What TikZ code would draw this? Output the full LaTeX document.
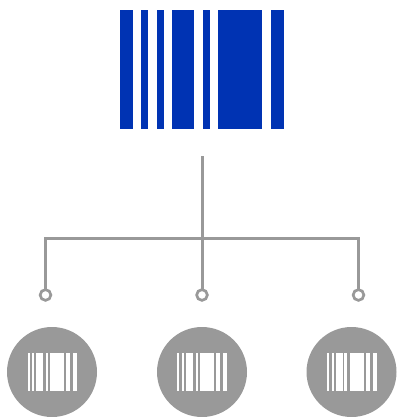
\documentclass[tikz,border=0pt]{standalone}
\definecolor{barblue}{HTML}{0033B3}
\definecolor{linegray}{HTML}{999999}
\tikzset{
  wire/.style={draw=linegray,line width=3pt},
  ringnode/.style={circle,draw=linegray,line width=2.7pt,fill=white,minimum size=10.7pt,inner sep=0pt,outer sep=0pt},
  disc/.style={circle,fill=linegray,minimum size=90pt,inner sep=0pt,outer sep=0pt},
  bigbar/.style={fill=barblue},
  smallbar/.style={fill=white}
}
\newcommand{\smallcode}[1]{%
  \foreach \a/\b in {#1}{\fill[smallbar] (\a,353) rectangle (\b,391);}}
\begin{document}
\begin{tikzpicture}[x=1pt,y=-1pt]
\useasboundingbox (0,0) rectangle (396,417);
% big barcode
\foreach \a/\b in {120/133,141/148,157/164,172/194,203/210,218/262,271/284}{
  \fill[bigbar] (\a,10) rectangle (\b,129);}
% connectors
\coordinate (top) at (202.2,156);
\coordinate (hub) at (202.2,238.5);
\coordinate (cl) at (45.5,238.5);
\coordinate (cr) at (358.5,238.5);
\node[ringnode] (rl) at (45.5,295) {};
\node[ringnode] (rm) at (202,295) {};
\node[ringnode] (rr) at (358.5,295) {};
\draw[wire] (top) -- (hub);
\draw[wire] (hub) -- (hub |- rm.north);
\draw[wire,miter limit=10] (rl.north) -- (cl) -- (cr) -- (rr.north);
% discs
\node[disc] (dl) at (52,372) {};
\node[disc] (dm) at (202,372) {};
\node[disc] (dr) at (351.5,372) {};
\smallcode{28/30,32/34,36/43,46/48,50/64,66/70,73/77}
\smallcode{177/179,182/184,186/193,196/198,200/214,216/220,223/227}
\smallcode{327/329,332/334,336/343,344/347,350/364,366/370,373/377}
\end{tikzpicture}
\end{document}
